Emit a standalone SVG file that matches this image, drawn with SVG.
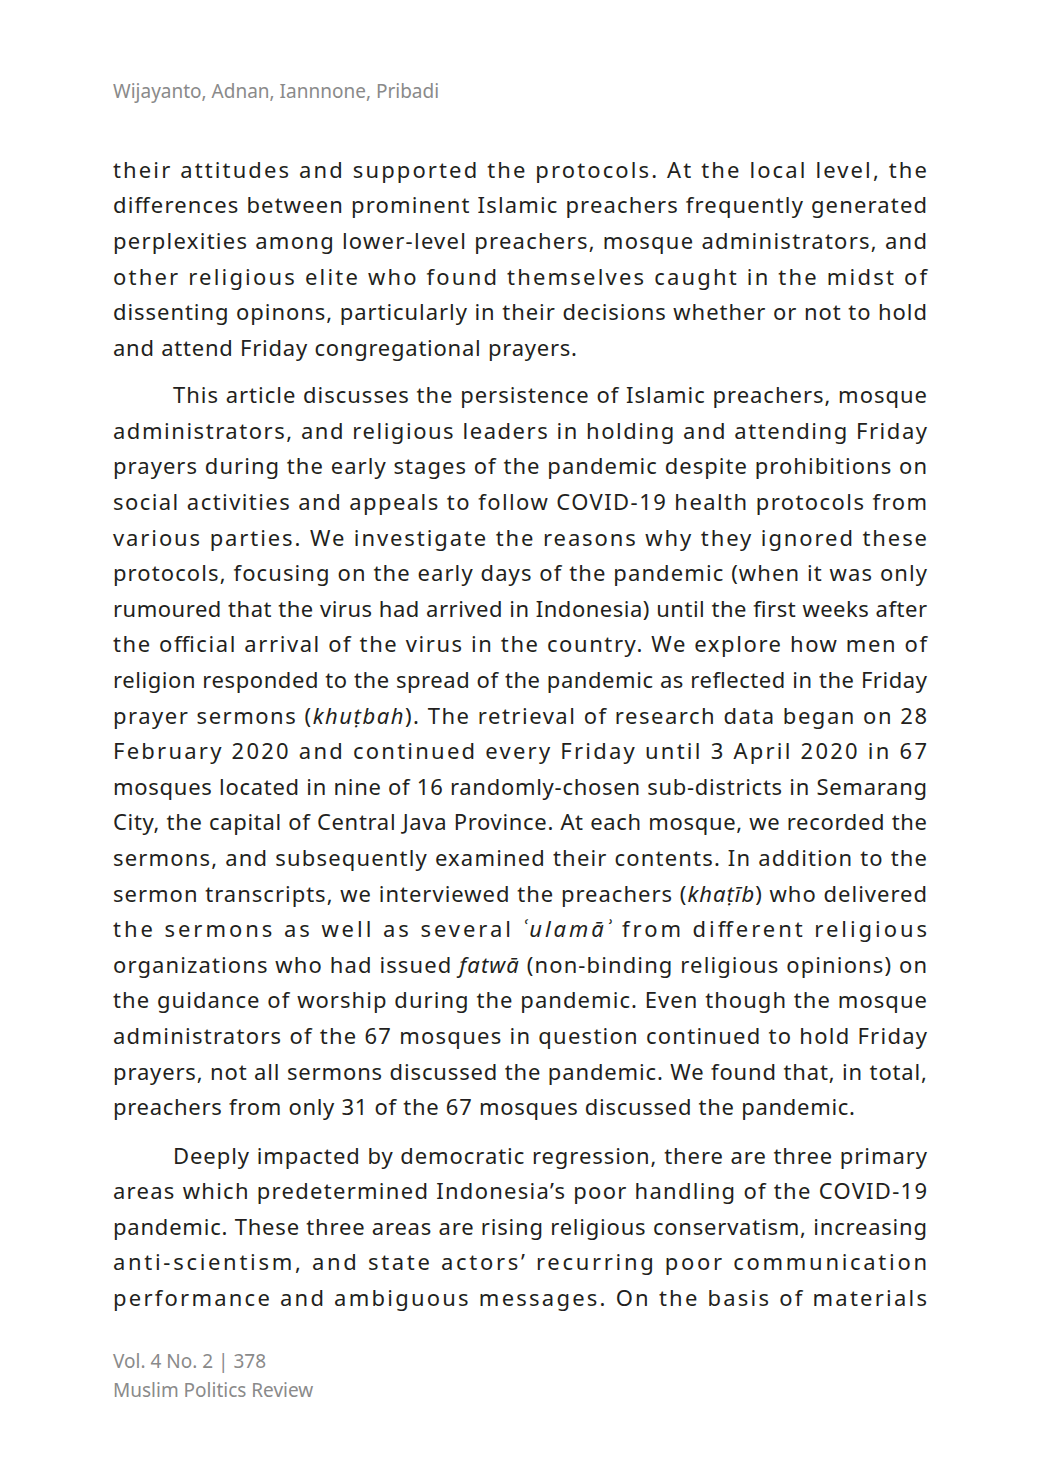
<svg xmlns="http://www.w3.org/2000/svg" width="1039" height="1477" viewBox="0 0 1039 1477">
<style>
.b{font-family:"Noto Sans","DejaVu Sans",sans-serif;font-size:22px;fill:#231f20}
.g{font-family:"Noto Sans","DejaVu Sans",sans-serif;font-size:19px;fill:#8a8a8a}
.i{font-style:italic}
</style>
<rect width="1039" height="1477" fill="#fff"/>
<text class="g" x="113" y="98">Wijayanto, Adnan, Iannnone, Pribadi</text>
<g class="b">
<text x="113" y="178" textLength="814" lengthAdjust="spacing">their attitudes and supported the protocols. At the local level, the</text>
<text x="113" y="213" textLength="814" lengthAdjust="spacing">differences between prominent Islamic preachers frequently generated</text>
<text x="113" y="249" textLength="814" lengthAdjust="spacing">perplexities among lower-level preachers, mosque administrators, and</text>
<text x="113" y="285" textLength="814" lengthAdjust="spacing">other religious elite who found themselves caught in the midst of</text>
<text x="113" y="320" textLength="814" lengthAdjust="spacing">dissenting opinons, particularly in their decisions whether or not to hold</text>
<text x="113" y="356" textLength="464" lengthAdjust="spacing">and attend Friday congregational prayers.</text>
<text x="173" y="403" textLength="754" lengthAdjust="spacing">This article discusses the persistence of Islamic preachers, mosque</text>
<text x="113" y="439" textLength="814" lengthAdjust="spacing">administrators, and religious leaders in holding and attending Friday</text>
<text x="113" y="474" textLength="814" lengthAdjust="spacing">prayers during the early stages of the pandemic despite prohibitions on</text>
<text x="113" y="510" textLength="814" lengthAdjust="spacing">social activities and appeals to follow COVID-19 health protocols from</text>
<text x="113" y="546" textLength="814" lengthAdjust="spacing">various parties. We investigate the reasons why they ignored these</text>
<text x="113" y="581" textLength="814" lengthAdjust="spacing">protocols, focusing on the early days of the pandemic (when it was only</text>
<text x="113" y="617" textLength="814" lengthAdjust="spacing">rumoured that the virus had arrived in Indonesia) until the first weeks after</text>
<text x="113" y="652" textLength="814" lengthAdjust="spacing">the official arrival of the virus in the country. We explore how men of</text>
<text x="113" y="688" textLength="814" lengthAdjust="spacing">religion responded to the spread of the pandemic as reflected in the Friday</text>
<text x="113" y="724" textLength="814" lengthAdjust="spacing">prayer sermons (<tspan class="i">khuṭbah</tspan>). The retrieval of research data began on 28</text>
<text x="113" y="759" textLength="814" lengthAdjust="spacing">February 2020 and continued every Friday until 3 April 2020 in 67</text>
<text x="113" y="795" textLength="814" lengthAdjust="spacing">mosques located in nine of 16 randomly-chosen sub-districts in Semarang</text>
<text x="113" y="830" textLength="814" lengthAdjust="spacing">City, the capital of Central Java Province. At each mosque, we recorded the</text>
<text x="113" y="866" textLength="814" lengthAdjust="spacing">sermons, and subsequently examined their contents. In addition to the</text>
<text x="113" y="902" textLength="814" lengthAdjust="spacing">sermon transcripts, we interviewed the preachers (<tspan class="i">khaṭīb</tspan>) who delivered</text>
<text x="113" y="937" textLength="814" lengthAdjust="spacing">the sermons as well as several <tspan class="i">ʿulamāʾ</tspan> from different religious</text>
<text x="113" y="973" textLength="814" lengthAdjust="spacing">organizations who had issued <tspan class="i">fatwā</tspan> (non-binding religious opinions) on</text>
<text x="113" y="1008" textLength="814" lengthAdjust="spacing">the guidance of worship during the pandemic. Even though the mosque</text>
<text x="113" y="1044" textLength="814" lengthAdjust="spacing">administrators of the 67 mosques in question continued to hold Friday</text>
<text x="113" y="1080" textLength="814" lengthAdjust="spacing">prayers, not all sermons discussed the pandemic. We found that, in total,</text>
<text x="113" y="1115" textLength="742" lengthAdjust="spacing">preachers from only 31 of the 67 mosques discussed the pandemic.</text>
<text x="173" y="1164" textLength="754" lengthAdjust="spacing">Deeply impacted by democratic regression, there are three primary</text>
<text x="113" y="1199" textLength="814" lengthAdjust="spacing">areas which predetermined Indonesia’s poor handling of the COVID-19</text>
<text x="113" y="1235" textLength="814" lengthAdjust="spacing">pandemic. These three areas are rising religious conservatism, increasing</text>
<text x="113" y="1270" textLength="814" lengthAdjust="spacing">anti-scientism, and state actors’ recurring poor communication</text>
<text x="113" y="1306" textLength="814" lengthAdjust="spacing">performance and ambiguous messages. On the basis of materials</text>
</g>
<text class="g" x="113" y="1368">Vol. 4 No. 2 | 378</text>
<text class="g" x="113" y="1397">Muslim Politics Review</text>
</svg>
